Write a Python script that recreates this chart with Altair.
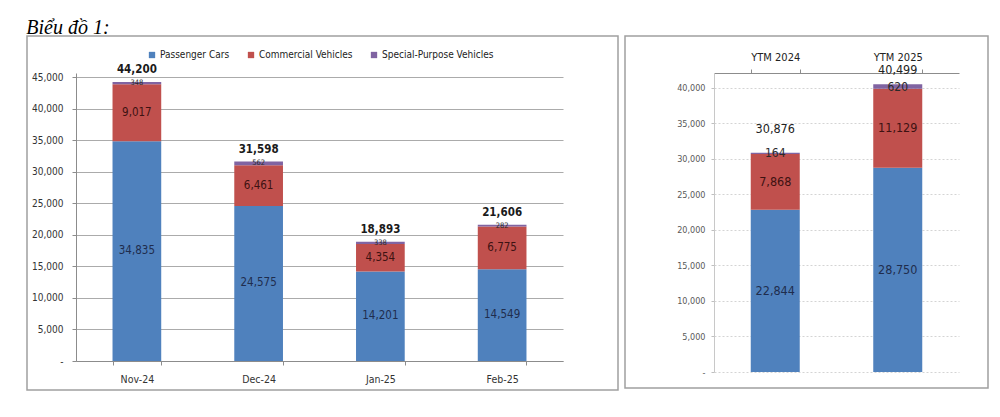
import altair as alt
import pandas as pd

# ---------------- data ----------------
series = ["Passenger Cars", "Commercial Vehicles", "Special-Purpose Vehicles"]
colors = ["#4F81BD", "#C0504D", "#8064A2"]

months = ["Nov-24", "Dec-24", "Jan-25", "Feb-25"]
passenger_m = [34835, 24575, 14201, 14549]
commercial_m = [9017, 6461, 4354, 6775]
special_m = [348, 562, 338, 282]

periods = ["YTM 2024", "YTM 2025"]
passenger_y = [22844, 28750]
commercial_y = [7868, 11129]
special_y = [164, 620]

left_ticks = list(range(0, 45001, 5000))
right_ticks = list(range(0, 40001, 5000))

NARROW = "Liberation Sans Narrow, Arial Narrow, DejaVu Sans Condensed, sans-serif"


def to_long(cats, p, c, s):
    rows = []
    for i, cat in enumerate(cats):
        for k, vals in enumerate([p, c, s]):
            rows.append({"cat": cat, "series": series[k], "value": vals[i], "order": k})
    return pd.DataFrame(rows)


left_df = to_long(months, passenger_m, commercial_m, special_m)
right_df = to_long(periods, passenger_y, commercial_y, special_y)

color_scale = alt.Scale(domain=series, range=colors)
label_expr = "datum.value == 0 ? '-' : format(datum.value, ',')"
seg_colors = ["#1f2d4d", "#3d1212", "#2a2a2a"]

# ---------------- left panel ----------------
LW, LH = 487, 288

lx_axis = alt.Axis(title=None, labelAngle=0, tickBand="extent", tickSize=4,
                   tickColor="#8c8c8c", domainColor="#8c8c8c", labelFont=NARROW,
                   labelFontSize=10.5, labelColor="#333333", labelPadding=9, grid=False)
ly_axis = alt.Axis(title=None, values=left_ticks, labelExpr=label_expr, tickSize=4,
                   tickColor="#8c8c8c", domainColor="#8c8c8c", gridColor="#ababab",
                   labelFont=NARROW, labelFontSize=10, labelColor="#333333",
                   labelPadding=9)
lx_scale = alt.Scale(paddingInner=0.6, paddingOuter=0.3)
ly_scale = alt.Scale(domain=[0, 45640], nice=False)


def lx():
    return alt.X("cat:N", sort=months, scale=lx_scale, axis=lx_axis)


lbase = alt.Chart(left_df)

l_border = alt.Chart(alt.Data(values=[{}])).mark_rect(
    fillOpacity=0, stroke="#a0a0a0", strokeWidth=1.5
).encode(x=alt.value(-49), x2=alt.value(LW + 55), y=alt.value(-37), y2=alt.value(LH + 29))

l_bars = lbase.mark_bar().encode(
    x=lx(),
    y=alt.Y("value:Q", stack="zero", scale=ly_scale, axis=ly_axis),
    color=alt.Color("series:N", scale=color_scale, sort=series,
                    legend=alt.Legend(orient="none", legendX=71, legendY=-23,
                                      direction="horizontal", title=None,
                                      symbolType="square", symbolSize=40,
                                      symbolStrokeWidth=0, labelFont=NARROW,
                                      labelFontSize=10, labelColor="#222222",
                                      columnPadding=16, padding=0, labelOffset=3)),
    order=alt.Order("order:Q"),
)

l_mid = lbase.transform_window(
    cum="sum(value)", groupby=["cat"], sort=[alt.SortField("order")], frame=[None, 0]
).transform_calculate(mid="datum.cum - datum.value / 2")

l_segs = [
    l_mid.transform_filter(alt.datum.order == k).mark_text(
        font=NARROW, fontSize=[11.5, 11.5, 7.5][k], color=seg_colors[k]
    ).encode(x=lx(), y=alt.Y("mid:Q", scale=ly_scale, axis=ly_axis),
             text=alt.Text("value:Q", format=","))
    for k in range(3)
]

l_tot = lbase.transform_aggregate(total="sum(value)", groupby=["cat"]).mark_text(
    font=NARROW, fontSize=11.5, fontWeight="bold", color="#1a1a1a", dy=-12
).encode(x=lx(), y=alt.Y("total:Q", scale=ly_scale, axis=ly_axis),
         text=alt.Text("total:Q", format=","))

left = alt.layer(l_border, l_bars, *l_segs, l_tot).properties(width=LW, height=LH)

# ---------------- right panel ----------------
RW, RH = 245, 299

rx_axis = alt.Axis(title=None, orient="top", labelAngle=0, tickBand="extent", tickSize=4,
                   tickColor="#8c8c8c", domainColor="#8c8c8c", labelFont=NARROW,
                   labelFontSize=11, labelColor="#222222", labelPadding=7, grid=False)
ry_axis = alt.Axis(title=None, values=right_ticks, labelExpr=label_expr, tickSize=3,
                   tickColor="#bfbfbf", domainColor="#c8c8c8", gridColor="#d4d4d4",
                   gridDash=[2, 2], labelFont=NARROW, labelFontSize=9,
                   labelColor="#595959", labelPadding=6)
rx_scale = alt.Scale(paddingInner=0.6, paddingOuter=0.3)
ry_scale = alt.Scale(domain=[0, 42100], nice=False)


def rx():
    return alt.X("cat:N", sort=periods, scale=rx_scale, axis=rx_axis)


rbase = alt.Chart(right_df)

r_border = alt.Chart(alt.Data(values=[{}])).mark_rect(
    fillOpacity=0, stroke="#a0a0a0", strokeWidth=1.5
).encode(x=alt.value(-89), x2=alt.value(RW + 29), y=alt.value(-37), y2=alt.value(RH + 16))

r_bars = rbase.mark_bar().encode(
    x=rx(),
    y=alt.Y("value:Q", stack="zero", scale=ry_scale, axis=ry_axis),
    color=alt.Color("series:N", scale=color_scale, sort=series, legend=None),
    order=alt.Order("order:Q"),
)

r_mid = rbase.transform_window(
    cum="sum(value)", groupby=["cat"], sort=[alt.SortField("order")], frame=[None, 0]
).transform_calculate(mid="datum.cum - datum.value / 2")

r_segs = [
    r_mid.transform_filter(alt.datum.order == k).mark_text(
        font=NARROW, fontSize=[12.5, 12.5, 12][k], color=seg_colors[k]
    ).encode(x=rx(), y=alt.Y("mid:Q", scale=ry_scale, axis=ry_axis),
             text=alt.Text("value:Q", format=","))
    for k in range(3)
]

r_tot_base = rbase.transform_aggregate(total="sum(value)", groupby=["cat"])
r_tots = [
    r_tot_base.transform_filter(alt.datum.cat == periods[i]).mark_text(
        font=NARROW, fontSize=12.5, color="#222222", dy=[-24, -14][i]
    ).encode(x=rx(), y=alt.Y("total:Q", scale=ry_scale, axis=ry_axis),
             text=alt.Text("total:Q", format=","))
    for i in range(2)
]

right = alt.layer(r_border, r_bars, *r_segs, *r_tots).properties(width=RW, height=RH)

chart = alt.hconcat(left, right, spacing=5).resolve_scale(
    color="independent"
).resolve_legend(color="independent").properties(
    title=alt.TitleParams("Biểu đồ 1:", anchor="start", font="Liberation Serif",
                          fontStyle="italic", fontWeight="normal", fontSize=20,
                          color="#000000", offset=-3),
    padding={"left": 26, "top": 18, "right": 5, "bottom": 5},
    background="white",
).configure_view(stroke=None)

chart.save("out.html", embed_options={"renderer": "svg", "actions": False})
